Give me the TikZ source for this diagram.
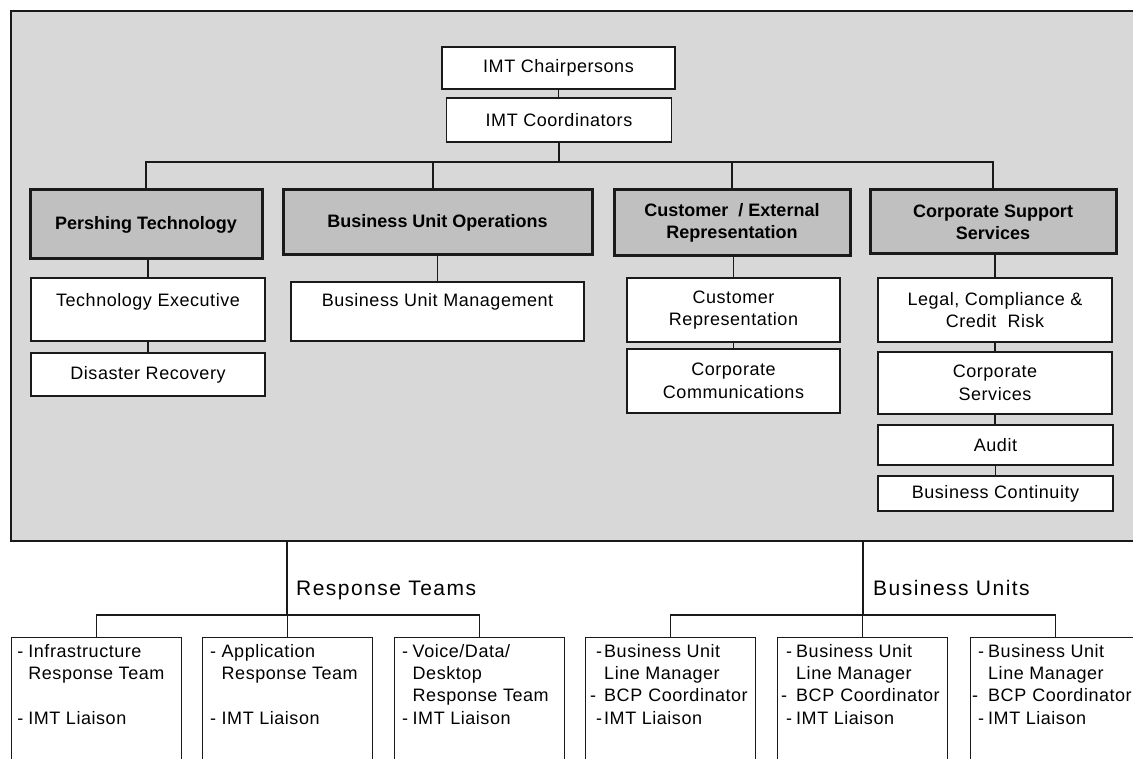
\documentclass[tikz,border=0pt]{standalone}
\usepackage{fontspec}
\setmainfont{Liberation Sans}[LetterSpace=3]
\newfontfamily\hdrfont{Liberation Sans}
\newfontfamily\lblfont{Liberation Sans}[LetterSpace=7]
\newcommand\bodyfnt{\fontsize{18}{22.4}\selectfont}
\newcommand\hdrfnt{\hdrfont\bfseries\fontsize{18}{22}\selectfont}
\newcommand\lblfnt{\lblfont\fontsize{21}{25}\selectfont}
\newcommand\dln[2]{\makebox[#1][l]{-}#2}
\newcommand\iln[2]{\hspace*{#1}#2}
\newcommand\bcpline{BCP\hspace{6pt}Coordinator}
\definecolor{lc}{HTML}{1A1A1A}
\definecolor{panelgray}{HTML}{D8D8D8}
\definecolor{hfill}{HTML}{C0C0C0}
\begin{document}
\begin{tikzpicture}[x=1pt,y=-1pt,
  conn/.style={draw=lc, line width=1.4pt},
  panelbox/.style={draw=lc, line width=1.6pt, fill=panelgray, inner sep=0pt, anchor=north west},
  wbox/.style={draw=lc, line width=1.4pt, fill=white, inner sep=0pt, align=center, font=\bodyfnt},
  hbox/.style={draw=lc, line width=3pt, fill=hfill, inner sep=0pt, align=center, font=\hdrfnt},
  tbox/.style={draw=lc, line width=1.4pt, fill=white, inner sep=0pt, anchor=north west, minimum width=170pt, minimum height=150pt},
  ttext/.style={anchor=north west, inner sep=0pt, align=left, font=\bodyfnt},
  lbl/.style={anchor=base west, inner sep=0pt, font=\lblfnt}]
\useasboundingbox (0,0) rectangle (1133,759);
\clip (0,0) rectangle (1133,759);

% panel
\node[panelbox, minimum width=1140pt, minimum height=530pt] (panel) at (10,10) {};

% top
\node[wbox, minimum width=233pt, minimum height=42pt] (chair) at (558.5,68) {IMT Chairpersons};
\node[wbox, minimum width=225pt, minimum height=44pt] (coord) at (559,120) {IMT Coordinators};

% headers
\node[hbox, minimum width=232pt, minimum height=69pt] (pt)  at (146,224.5) {Pershing Technology};
\node[hbox, minimum width=309pt, minimum height=65pt] (buo) at (437.5,222.5) {Business Unit Operations};
\node[hbox, minimum width=236pt, minimum height=66pt] (cer) at (732,223) {Customer~ / External\\Representation};
\node[hbox, minimum width=246pt, minimum height=64pt] (css) at (993,222) {Corporate Support\\Services};

% sub boxes
\node[wbox, minimum width=234pt, minimum height=63pt, text height=29pt, text depth=34pt] (te) at (148,309.5) {Technology Executive};
\node[wbox, minimum width=234pt, minimum height=43pt] (dr) at (148,374.5) {Disaster Recovery};
\node[wbox, minimum width=293pt, minimum height=59pt, text height=25pt, text depth=34pt] (bum) at (437.5,311.5) {Business Unit Management};
\node[wbox, minimum width=213pt, minimum height=64pt] (crep) at (733.5,310) {Customer\\Representation};
\node[wbox, minimum width=213pt, minimum height=64pt] (ccom) at (733.5,381) {Corporate\\Communications};
\node[wbox, minimum width=234pt, minimum height=64pt] (legal) at (995,310) {Legal, Compliance \&\\Credit~ Risk};
\node[wbox, minimum width=234pt, minimum height=62pt] (csv) at (995,383) {Corporate\\Services};
\node[wbox, minimum width=235pt, minimum height=40pt] (audit) at (995.5,445) {Audit};
\node[wbox, minimum width=235pt, minimum height=35pt] (bc) at (995.5,493.5) {Business Continuity};

% top connectors
\coordinate (bus) at (559,162);
\draw[conn] (chair.south) -- (chair.south |- coord.north);
\draw[conn] (coord.south) -- (coord.south |- bus);
\draw[conn] (pt.north) |- (bus) -| (css.north);
\draw[conn] ([xshift=-4.5pt]buo.north) -- ([xshift=-4.5pt]buo.north |- bus);
\draw[conn] (cer.north) -- (cer.north |- bus);
\draw[conn] (te.north) -- (te.north |- pt.south);
\draw[conn] (te.south) -- (te.south |- dr.north);
\draw[conn] (bum.north) -- (bum.north |- buo.south);
\draw[conn] (crep.north) -- (crep.north |- cer.south);
\draw[conn] (crep.south) -- (crep.south |- ccom.north);
\draw[conn] (legal.north) -- (legal.north |- css.south);
\draw[conn] (legal.south) -- (legal.south |- csv.north);
\draw[conn] (csv.south) -- (csv.south |- audit.north);
\draw[conn] (audit.south) -- (audit.south |- bc.north);

% bottom boxes
\node[tbox] (t1) at (10.7,637) {};
\node[tbox] (t2) at (202,637) {};
\node[tbox] (t3) at (394,637) {};
\node[tbox] (u1) at (585,637) {};
\node[tbox] (u2) at (777,637) {};
\node[tbox] (u3) at (970,637) {};

\node[ttext] (t1x) at ([xshift=6.5pt,yshift=-4.25pt]t1.north west)
  {\strut\dln{11pt}{Infrastructure}\\\iln{11pt}{Response Team}\\\mbox{}\\\dln{11pt}{IMT Liaison}};
\node[ttext] (t2x) at ([xshift=8pt,yshift=-4.25pt]t2.north west)
  {\strut\dln{11.5pt}{Application}\\\iln{11.5pt}{Response Team}\\\mbox{}\\\dln{11.5pt}{IMT Liaison}};
\node[ttext] (t3x) at ([xshift=8pt,yshift=-4.25pt]t3.north west)
  {\strut\dln{10.5pt}{Voice/Data/}\\\iln{10.5pt}{Desktop}\\\iln{10.5pt}{Response Team}\\\dln{10.5pt}{IMT Liaison}};
\node[ttext] (u1x) at ([xshift=11pt,yshift=-4.25pt]u1.north west)
  {\strut\dln{8pt}{Business Unit}\\\iln{8pt}{Line Manager}\\\hspace*{-6pt}\dln{14pt}{\bcpline}\\\dln{8pt}{IMT Liaison}};
\node[ttext] (u2x) at ([xshift=9pt,yshift=-4.25pt]u2.north west)
  {\strut\dln{10pt}{Business Unit}\\\iln{10pt}{Line Manager}\\\hspace*{-5pt}\dln{15pt}{\bcpline}\\\dln{10pt}{IMT Liaison}};
\node[ttext] (u3x) at ([xshift=8pt,yshift=-4.25pt]u3.north west)
  {\strut\dln{10pt}{Business Unit}\\\iln{10pt}{Line Manager}\\\hspace*{-6pt}\dln{16pt}{\bcpline}\\\dln{10pt}{IMT Liaison}};

% bottom connectors
\coordinate (rb) at (287,615);
\coordinate (ub) at (863,615);
\draw[conn] (rb |- panel.south) -- (rb);
\draw[conn] (t1.north) |- (rb) -| (t3.north);
\draw[conn] (t2.north) -- (t2.north |- rb);
\draw[conn] (ub |- panel.south) -- (ub);
\draw[conn] (u1.north) |- (ub) -| (u3.north);
\draw[conn] (u2.north) -- (u2.north |- ub);

\node[lbl] (rtl) at (296,595) {Response Teams};
\node[lbl] (bul) at (873,595) {Business Units};
\end{tikzpicture}
\end{document}
